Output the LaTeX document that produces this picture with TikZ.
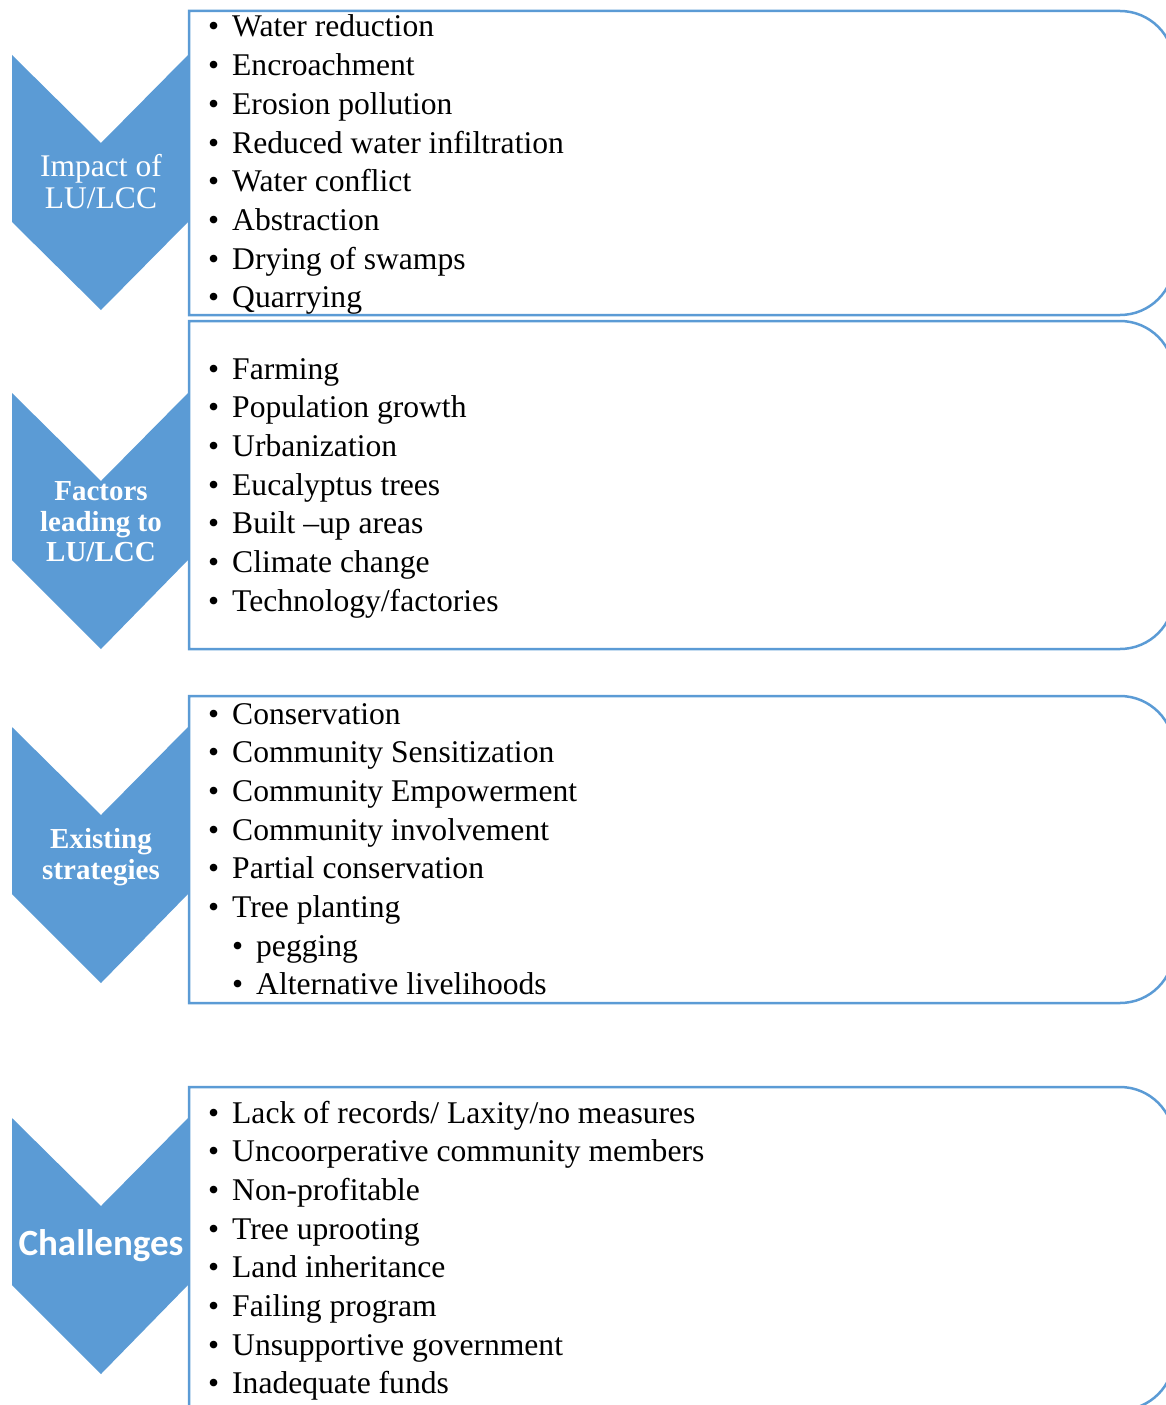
\documentclass[tikz,border=0pt]{standalone}
\usepackage{fontspec}
\setmainfont{Liberation Serif}
\newfontfamily\chalfont{Carlito}
\definecolor{chevblue}{HTML}{5B9BD5}
\newcommand{\itemb}{\makebox[24pt][l]{\textbullet}}

\begin{document}
\begin{tikzpicture}[
    x=1pt, y=-1pt,
    chevron/.style={fill=chevblue},
    panel/.style={draw=chevblue, line width=2.5pt},
    item/.style={anchor=base west, inner sep=0pt, font=\fontsize{31.6}{37}\selectfont},
    title/.style={text=white, align=center, inner sep=0pt}
]

\useasboundingbox (0,0) rectangle (1166,1405);
\clip (0,0) rectangle (1166,1405);

% Chevrons
\fill[chevron] (12,55) -- (101,143) -- (188,55) -- (188,222) -- (101,310) -- (12,222) -- cycle;
\fill[chevron] (12,393) -- (101,481) -- (188,393) -- (188,560) -- (101,649) -- (12,560) -- cycle;
\fill[chevron] (12,727) -- (101,815) -- (188,727) -- (188,894) -- (101,983) -- (12,894) -- cycle;
\fill[chevron] (12,1118) -- (101,1206) -- (188,1118) -- (188,1285) -- (101,1374) -- (12,1285) -- cycle;

% Panels
\draw[panel] (189,11) -- (1120,11) arc[start angle=90, end angle=0, radius=54pt]
    -- (1174,261) arc[start angle=0, end angle=-90, radius=54pt] -- (189,315) -- cycle;
\draw[panel] (189,321) -- (1120,321) arc[start angle=90, end angle=0, radius=54pt]
    -- (1174,595) arc[start angle=0, end angle=-90, radius=54pt] -- (189,649) -- cycle;
\draw[panel] (189,696) -- (1120,696) arc[start angle=90, end angle=0, radius=54pt]
    -- (1174,949) arc[start angle=0, end angle=-90, radius=54pt] -- (189,1003) -- cycle;
\draw[panel] (189,1087) -- (1120,1087) arc[start angle=90, end angle=0, radius=54pt]
    -- (1174,1356) arc[start angle=0, end angle=-90, radius=54pt] -- (189,1410) -- cycle;

% Titles
\node[title, font=\fontsize{31.5}{32}\selectfont] (impact) at (101,182) {Impact of\\LU/LCC};
\node[title, font=\bfseries\fontsize{29}{30.5}\selectfont] (factors) at (101,522) {Factors\\leading to\\LU/LCC};
\node[title, font=\bfseries\fontsize{29}{30.5}\selectfont] (existing) at (101,857) {Existing\\strategies};
\node[title, font=\chalfont\bfseries\fontsize{37}{40}\selectfont, anchor=base] (challenges) at (101,1255) {Challenges};

% Impact
\node[item] (imp1) at (208,37) {\itemb Water reduction};
\node[item] (imp2) at (208,75.7) {\itemb Encroachment};
\node[item] (imp3) at (208,114.4) {\itemb Erosion pollution};
\node[item] (imp4) at (208,153.1) {\itemb Reduced water infiltration};
\node[item] (imp5) at (208,191.8) {\itemb Water conflict};
\node[item] (imp6) at (208,230.5) {\itemb Abstraction};
\node[item] (imp7) at (208,269.2) {\itemb Drying of swamps};
\node[item] (imp8) at (208,307.9) {\itemb Quarrying};

% Factors
\node[item] (fac1) at (208,379) {\itemb Farming};
\node[item] (fac2) at (208,417.7) {\itemb Population growth};
\node[item] (fac3) at (208,456.4) {\itemb Urbanization};
\node[item] (fac4) at (208,495.1) {\itemb Eucalyptus trees};
\node[item] (fac5) at (208,533.8) {\itemb Built –up areas};
\node[item] (fac6) at (208,572.5) {\itemb Climate change};
\node[item] (fac7) at (208,611.2) {\itemb Technology/factories};

% Strategies
\node[item] (str1) at (208,724) {\itemb Conservation};
\node[item] (str2) at (208,762.7) {\itemb Community Sensitization};
\node[item] (str3) at (208,801.4) {\itemb Community Empowerment};
\node[item] (str4) at (208,840.1) {\itemb Community involvement};
\node[item] (str5) at (208,878.8) {\itemb Partial conservation};
\node[item] (str6) at (208,917.5) {\itemb Tree planting};
\node[item] (str7) at (232,956.2) {\itemb pegging};
\node[item] (str8) at (232,994.9) {\itemb Alternative livelihoods};

% Challenges
\node[item] (cha1) at (208,1123) {\itemb Lack of records/ Laxity/no measures};
\node[item] (cha2) at (208,1161.7) {\itemb Uncoorperative community members};
\node[item] (cha3) at (208,1200.4) {\itemb Non-profitable};
\node[item] (cha4) at (208,1239.1) {\itemb Tree uprooting};
\node[item] (cha5) at (208,1277.8) {\itemb Land inheritance};
\node[item] (cha6) at (208,1316.5) {\itemb Failing program};
\node[item] (cha7) at (208,1355.2) {\itemb Unsupportive government};
\node[item] (cha8) at (208,1393.9) {\itemb Inadequate funds};

\end{tikzpicture}
\end{document}
